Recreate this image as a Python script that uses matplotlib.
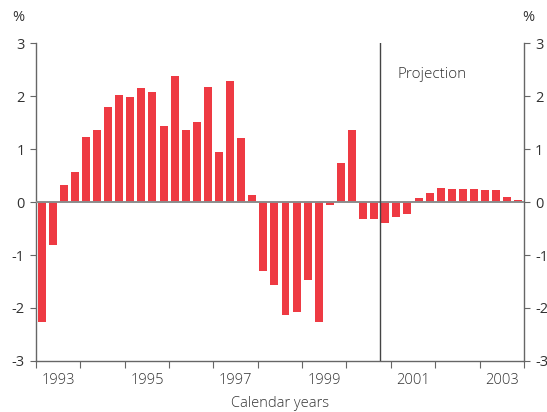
import matplotlib
matplotlib.use('Agg')
import matplotlib.pyplot as plt
import numpy as np

RED = '#ee3a43'
TEXT = '#333333'
AXIS = '#666666'

# quarterly values, 1993 Q1 .. 2003 Q4 (per cent)
values = [
    -2.26, -0.82, 0.32, 0.57,    # 1993
    1.23, 1.36, 1.79, 2.02,      # 1994
    1.98, 2.15, 2.08, 1.43,      # 1995
    2.38, 1.36, 1.51, 2.17,      # 1996
    0.94, 2.28, 1.21, 0.13,      # 1997
    -1.31, -1.57, -2.13, -2.08,  # 1998
    -1.48, -2.26, -0.05, 0.74,   # 1999
    1.36, -0.33, -0.33, -0.40,   # 2000
    -0.28, -0.22, 0.075, 0.17,   # 2001
    0.26, 0.245, 0.245, 0.245,   # 2002
    0.23, 0.23, 0.09, 0.04,      # 2003
]
years = list(range(1993, 2004))
label_years = [1993, 1995, 1997, 1999, 2001, 2003]
projection_start = 2000.75
yticks = [-3, -2, -1, 0, 1, 2, 3]

plt.rcParams['font.family'] = ['Open Sans', 'DejaVu Sans']

fig = plt.figure(figsize=(5.47, 4.12), dpi=100)
ax = fig.add_axes([0.0658, 0.1238, 0.892, 0.7718])

x = years[0] + 0.125 + 0.25 * np.arange(len(values))
ax.bar(x, values, width=0.18, color=RED, zorder=2)
ax.axhline(0, color='#8c8c8c', lw=1.4, zorder=3)
ax.axvline(projection_start, color='#444444', lw=1.0, zorder=3)

ax.set_xlim(years[0], years[-1] + 1)
ax.set_ylim(-3, 3)
ax.set_xticks(years + [years[-1] + 1])
ax.set_xticklabels([])
for yr in label_years:
    ax.text(yr + 0.5, -3.22, str(yr), ha='center', va='top', fontsize=10.5,
            color=TEXT, fontweight='light')
ax.text(1998.5, -3.66, 'Calendar years', ha='center', va='top', fontsize=10.5,
        color=TEXT, fontweight='light')

ax.set_yticks(yticks)
ax.set_yticklabels([str(t) for t in yticks])
ax.tick_params(axis='y', which='both', left=True, right=True, labelleft=True,
               labelright=True, direction='out', length=4, width=0.8,
               color=AXIS, labelcolor=TEXT, labelsize=10.5, pad=4)
ax.tick_params(axis='x', direction='out', length=5, width=0.8, color=AXIS)

ax.spines['top'].set_visible(False)
for s in ['left', 'right', 'bottom']:
    ax.spines[s].set_color(AXIS)
    ax.spines[s].set_linewidth(1.0)

ax.text(2001.15, 2.4, 'Projection', fontsize=11, color=TEXT, fontweight='light',
        va='center')

fig.text(0.033, 0.957, '%', fontsize=10.5, color=TEXT, ha='center', va='center')
fig.text(0.965, 0.957, '%', fontsize=10.5, color=TEXT, ha='center', va='center')

fig.savefig('out.png', dpi=100)
